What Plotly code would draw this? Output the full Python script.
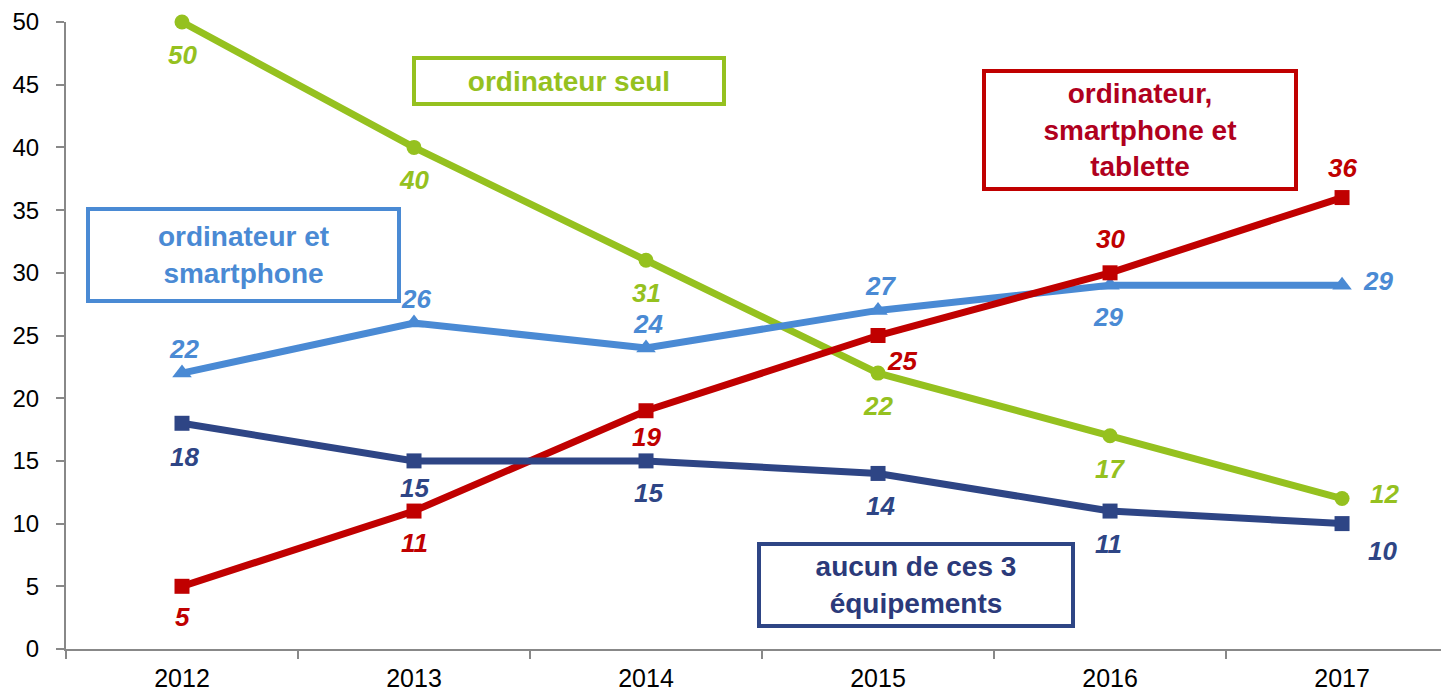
import plotly.graph_objects as go

years = ["2012", "2013", "2014", "2015", "2016", "2017"]
ordi_seul = [50, 40, 31, 22, 17, 12]
ordi_smart = [22, 26, 24, 27, 29, 29]
ordi_smart_tab = [5, 11, 19, 25, 30, 36]
aucun = [18, 15, 15, 14, 11, 10]

GREEN = "#95C11F"
BLUE = "#4A8AD4"
RED = "#C00000"
NAVY = "#2E4585"

# where each data label sits relative to its point (pixels)
green_off = [(0, -33)] * 5 + [(42, 5)]
blue_off = [(2, 24)] * 4 + [(-2, -32), (36, 4)]
red_off = [(0, -31), (0, -32), (0, -26), (24, -25), (0, 34), (0, 30)]
navy_off = [(2, -34), (0, -27), (2, -32), (2, -33), (-2, -33), (40, -27)]

series = [
    (ordi_seul, GREEN, "circle", 15, green_off),
    (ordi_smart, BLUE, "triangle-up", 17, blue_off),
    (ordi_smart_tab, RED, "square", 15, red_off),
    (aucun, NAVY, "square", 15, navy_off),
]

fig = go.Figure()
for vals, col, sym, msize, offs in series:
    fig.add_trace(go.Scatter(
        x=years, y=vals, mode="lines+markers",
        line=dict(color=col, width=7),
        marker=dict(color=col, size=msize, symbol=sym),
        cliponaxis=False, showlegend=False, hoverinfo="skip",
    ))

for vals, col, sym, msize, offs in series:
    for i, (v, (dx, dy)) in enumerate(zip(vals, offs)):
        fig.add_annotation(
            x=i, y=v, text="<b><i>%d</i></b>" % v, showarrow=False,
            xshift=dx, yshift=dy,
            font=dict(family="Liberation Sans, Arial", size=26, color=col),
        )

boxes = [
    ("ordinateur seul", GREEN, GREEN, 0.3637, 0.9059, 306, 42),
    ("ordinateur et<br>smartphone", BLUE, BLUE, 0.1283, 0.6284, 307, 88),
    ("ordinateur,<br>smartphone et<br>tablette", RED, "#B0001E", 0.7766, 0.8278, 308, 114),
    ("aucun de ces 3<br>équipements", NAVY, "#2B3A7A", 0.6146, 0.1021, 310, 78),
]
for txt, bc, tc, px, py, w, h in boxes:
    fig.add_annotation(
        xref="paper", yref="paper", x=px, y=py, text="<b>%s</b>" % txt,
        xanchor="center", yanchor="middle",
        showarrow=False, width=w, height=h, align="center", valign="middle",
        bordercolor=bc, borderwidth=4, borderpad=0, bgcolor="white",
        font=dict(family="Liberation Sans, Arial", size=28, color=tc),
    )

# page body has an 8px margin, so the figure is shrunk to fit the window
fig.update_layout(
    width=1441, height=684,
    margin=dict(l=58, r=0, t=14, b=43),
    plot_bgcolor="white", paper_bgcolor="white",
    font=dict(family="Liberation Sans, Arial", size=25, color="black"),
    xaxis=dict(
        type="category", range=[-0.5, 5.461], tickson="boundaries",
        showline=True, linecolor="#888888", linewidth=2,
        ticks="outside", ticklen=8, tickcolor="#888888", tickwidth=2,
        ticklabelstandoff=6,
        showgrid=False, zeroline=False,
    ),
    yaxis=dict(
        range=[0, 50], dtick=5, tick0=0,
        showline=True, linecolor="#888888", linewidth=2,
        ticks="outside", ticklen=8, tickcolor="#888888", tickwidth=2,
        ticklabelstandoff=12, tickfont=dict(size=24),
        showgrid=False, zeroline=False,
    ),
)

fig.write_html("out.html")
